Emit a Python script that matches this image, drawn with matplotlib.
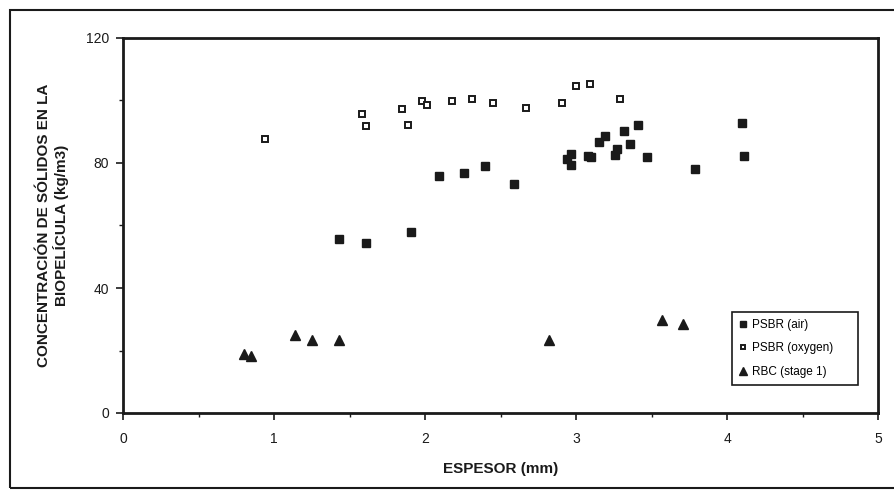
import matplotlib
matplotlib.use("Agg")
import matplotlib.pyplot as plt
from matplotlib.patches import Rectangle

# ---- data ----
air_x = [1.43, 1.61, 1.91, 2.09, 2.26, 2.40, 2.59, 2.94, 2.97, 2.97, 3.08, 3.10,
         3.15, 3.19, 3.26, 3.27, 3.32, 3.36, 3.41, 3.47, 3.79, 4.10, 4.11]
air_y = [55.7, 54.3, 58.0, 75.8, 76.8, 79.0, 73.3, 81.2, 82.8, 79.4, 82.1, 81.8,
         86.6, 88.5, 82.7, 84.6, 90.2, 86.0, 92.1, 81.8, 78.1, 92.9, 82.3]

oxy_x = [0.94, 1.58, 1.61, 1.85, 1.89, 1.98, 2.01, 2.18, 2.31, 2.45, 2.67, 2.91,
         3.00, 3.09, 3.29]
oxy_y = [87.8, 95.8, 91.8, 97.2, 92.2, 99.8, 98.6, 99.8, 100.6, 99.3, 97.7, 99.3,
         104.5, 105.3, 100.5]

rbc_x = [0.80, 0.85, 1.14, 1.25, 1.43, 2.82, 3.57, 3.71]
rbc_y = [19.0, 18.4, 25.1, 23.4, 23.4, 23.3, 29.8, 28.5]

series_labels = ["PSBR (air)", "PSBR (oxygen)", "RBC (stage 1)"]
x_ticks = [0, 1, 2, 3, 4, 5]
y_ticks = [0, 40, 80, 120]
x_label = "ESPESOR (mm)"
y_label = "CONCENTRACIÓN DE SÓLIDOS EN LA\nBIOPELÍCULA (kg/m3)"

# ---- figure ----
plt.rcParams['font.family'] = ['Liberation Sans', 'DejaVu Sans']
fig = plt.figure(figsize=(8.95, 4.96), dpi=100)
fig.patch.set_facecolor("white")
ax = fig.add_axes([123/895, 1-413/496, 755/895, 375/496])

ax.plot(air_x, air_y, linestyle="none", marker="s", markersize=5.5,
        color="#1a1a1a", markeredgecolor="#1a1a1a", label=series_labels[0])
ax.plot(oxy_x, oxy_y, linestyle="none", marker="s", markersize=4.8,
        markerfacecolor="white", markeredgecolor="#1a1a1a", markeredgewidth=1.4,
        label=series_labels[1])
ax.plot(rbc_x, rbc_y, linestyle="none", marker="^", markersize=7,
        color="#1a1a1a", label=series_labels[2])

ax.set_xlim(0, 5)
ax.set_ylim(0, 120)
ax.set_xticks(x_ticks)
ax.set_yticks(y_ticks)
ax.set_xticks([0.5, 1.5, 2.5, 3.5, 4.5], minor=True)
ax.set_yticks([20, 60, 100], minor=True)
ax.tick_params(axis="both", which="major", direction="out", length=5, width=1.2,
               labelsize=10, color="#1a1a1a", labelcolor="#1a1a1a")
ax.tick_params(axis="both", which="minor", direction="out", length=3, width=1.0,
               color="#1a1a1a")
ax.tick_params(axis="x", which="major", pad=9)
ax.tick_params(axis="y", which="major", pad=5)

for s in ax.spines.values():
    s.set_linewidth(2.0)
    s.set_color("#1a1a1a")

ax.set_xlabel(x_label, fontsize=11, fontweight="bold",
              color="#1a1a1a", labelpad=11)
ax.set_ylabel(y_label, fontsize=11, fontweight="bold",
              color="#1a1a1a", labelpad=12, linespacing=1.2)

leg = ax.legend(loc="upper left", bbox_to_anchor=(0.807, 0.269, 0.166, 0),
                mode="expand", borderaxespad=0,
                fontsize=8.5, frameon=True, fancybox=False, framealpha=1,
                edgecolor="#1a1a1a", handlelength=0.6, handletextpad=0.5,
                markerscale=0.75, borderpad=0.6, labelspacing=0.95)
leg.get_frame().set_linewidth(1.2)

# outer frame of the original figure
fig.patches.append(Rectangle((10/895, 1-488/496), 900/895, 478/496,
                             transform=fig.transFigure, fill=False,
                             edgecolor="#1a1a1a", linewidth=1.5))

fig.savefig("out.png", dpi=100, facecolor="white")
